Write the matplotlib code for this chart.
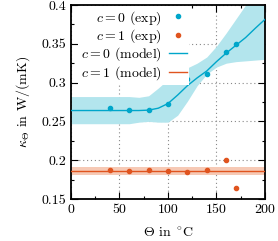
import matplotlib
matplotlib.use("Agg")
import matplotlib.pyplot as plt
from matplotlib.ticker import MultipleLocator, FuncFormatter

plt.rcParams['font.family'] = 'serif'
plt.rcParams['font.serif'] = ['cmr10']
plt.rcParams['mathtext.fontset'] = 'cm'
plt.rcParams['axes.formatter.use_mathtext'] = True

# experimental data
exp_x0 = [40, 60, 80, 100, 120, 140, 160, 170]
exp_y0 = [0.267, 0.265, 0.265, 0.273, 0.305, 0.3115, 0.339, 0.350]
exp_x1 = [40, 60, 80, 100, 120, 140, 160, 170]
exp_y1 = [0.188, 0.1865, 0.1878, 0.1857, 0.1848, 0.187, 0.200, 0.164]

# model c=0
mod_x0 = [0, 10, 20, 30, 40, 50, 60, 70, 80, 90, 100, 110, 120, 130, 140, 150, 160, 170, 180, 190, 200]
mod_y0 = [0.264, 0.264, 0.264, 0.264, 0.264, 0.264, 0.264, 0.264, 0.2645, 0.267, 0.273, 0.284, 0.296, 0.306, 0.315, 0.327, 0.338, 0.348, 0.358, 0.370, 0.3815]
mod_up0 = [0.282, 0.282, 0.282, 0.282, 0.282, 0.282, 0.282, 0.281, 0.283, 0.293, 0.304, 0.313, 0.319, 0.325, 0.333, 0.347, 0.364, 0.382, 0.400, 0.420, 0.440]
mod_lo0 = [0.247, 0.247, 0.247, 0.247, 0.247, 0.247, 0.247, 0.249, 0.250, 0.249, 0.249, 0.258, 0.276, 0.296, 0.311, 0.320, 0.325, 0.327, 0.328, 0.329, 0.330]

# model c=1
mod_x1 = [0, 200]
mod_y1 = [0.186, 0.186]
mod_up1 = [0.191, 0.191]
mod_lo1 = [0.1805, 0.1805]

x_ticks = [0, 50, 100, 150, 200]
y_ticks = [0.15, 0.2, 0.25, 0.3, 0.35, 0.4]

cyan = '#00a6ca'
cyan_band = '#b3e5ed'
orange = '#e0541f'
orange_band = '#f6c9b5'

fig = plt.figure(figsize=(2.78, 2.41), dpi=100)
ax = fig.add_axes([0.2554, 0.1743, 0.6978, 0.8050])

ax.fill_between(mod_x0, mod_lo0, mod_up0, color=cyan_band, lw=0, zorder=1)
ax.fill_between(mod_x1, mod_lo1, mod_up1, color=orange_band, lw=0, zorder=1)

ax.plot(exp_x0, exp_y0, 'o', color=cyan, ms=3, label=r'$c = 0$ (exp)', zorder=4)
ax.plot(exp_x1, exp_y1, 'o', color=orange, ms=3, label=r'$c = 1$ (exp)', zorder=4)
ax.plot(mod_x0, mod_y0, '-', color=cyan, lw=1.0, label=r'$c = 0$ (model)', zorder=3)
ax.plot(mod_x1, mod_y1, '-', color=orange, lw=1.0, label=r'$c = 1$ (model)', zorder=3)

ax.set_xlim(0, 200)
ax.set_ylim(0.15, 0.4)
ax.set_xticks(x_ticks)
ax.set_yticks(y_ticks)
ax.xaxis.set_minor_locator(MultipleLocator(25))
ax.yaxis.set_minor_locator(MultipleLocator(0.025))
ax.yaxis.set_major_formatter(FuncFormatter(lambda v, p: '%g' % round(v, 3)))
ax.xaxis.set_major_formatter(FuncFormatter(lambda v, p: '%g' % v))
ax.tick_params(which='both', direction='in', top=True, right=True, labelsize=10, width=0.8)
ax.tick_params(which='major', length=5)
ax.tick_params(which='minor', length=2.5)
for s in ax.spines.values():
    s.set_linewidth(1.3)
ax.grid(True, which='major', linestyle=(0, (1, 2.5)), color='#888888', lw=0.8, zorder=0)
ax.set_axisbelow(True)

ax.set_xlabel(r'$\Theta$ in $^\circ\!\mathrm{C}$', fontsize=10, labelpad=7)
ax.set_ylabel(r'$\kappa_\Theta$ in W/(mK)', fontsize=10, labelpad=7)

leg = ax.legend(loc='upper right', bbox_to_anchor=(0.61, 0.995), markerfirst=False,
                frameon=True, fancybox=False, framealpha=1, edgecolor='none',
                fontsize=10, handlelength=1.3, handletextpad=0.5, labelspacing=0.05,
                borderpad=0.2, borderaxespad=0.0)
leg.get_frame().set_linewidth(0)

fig.savefig('out.png', dpi=100)
